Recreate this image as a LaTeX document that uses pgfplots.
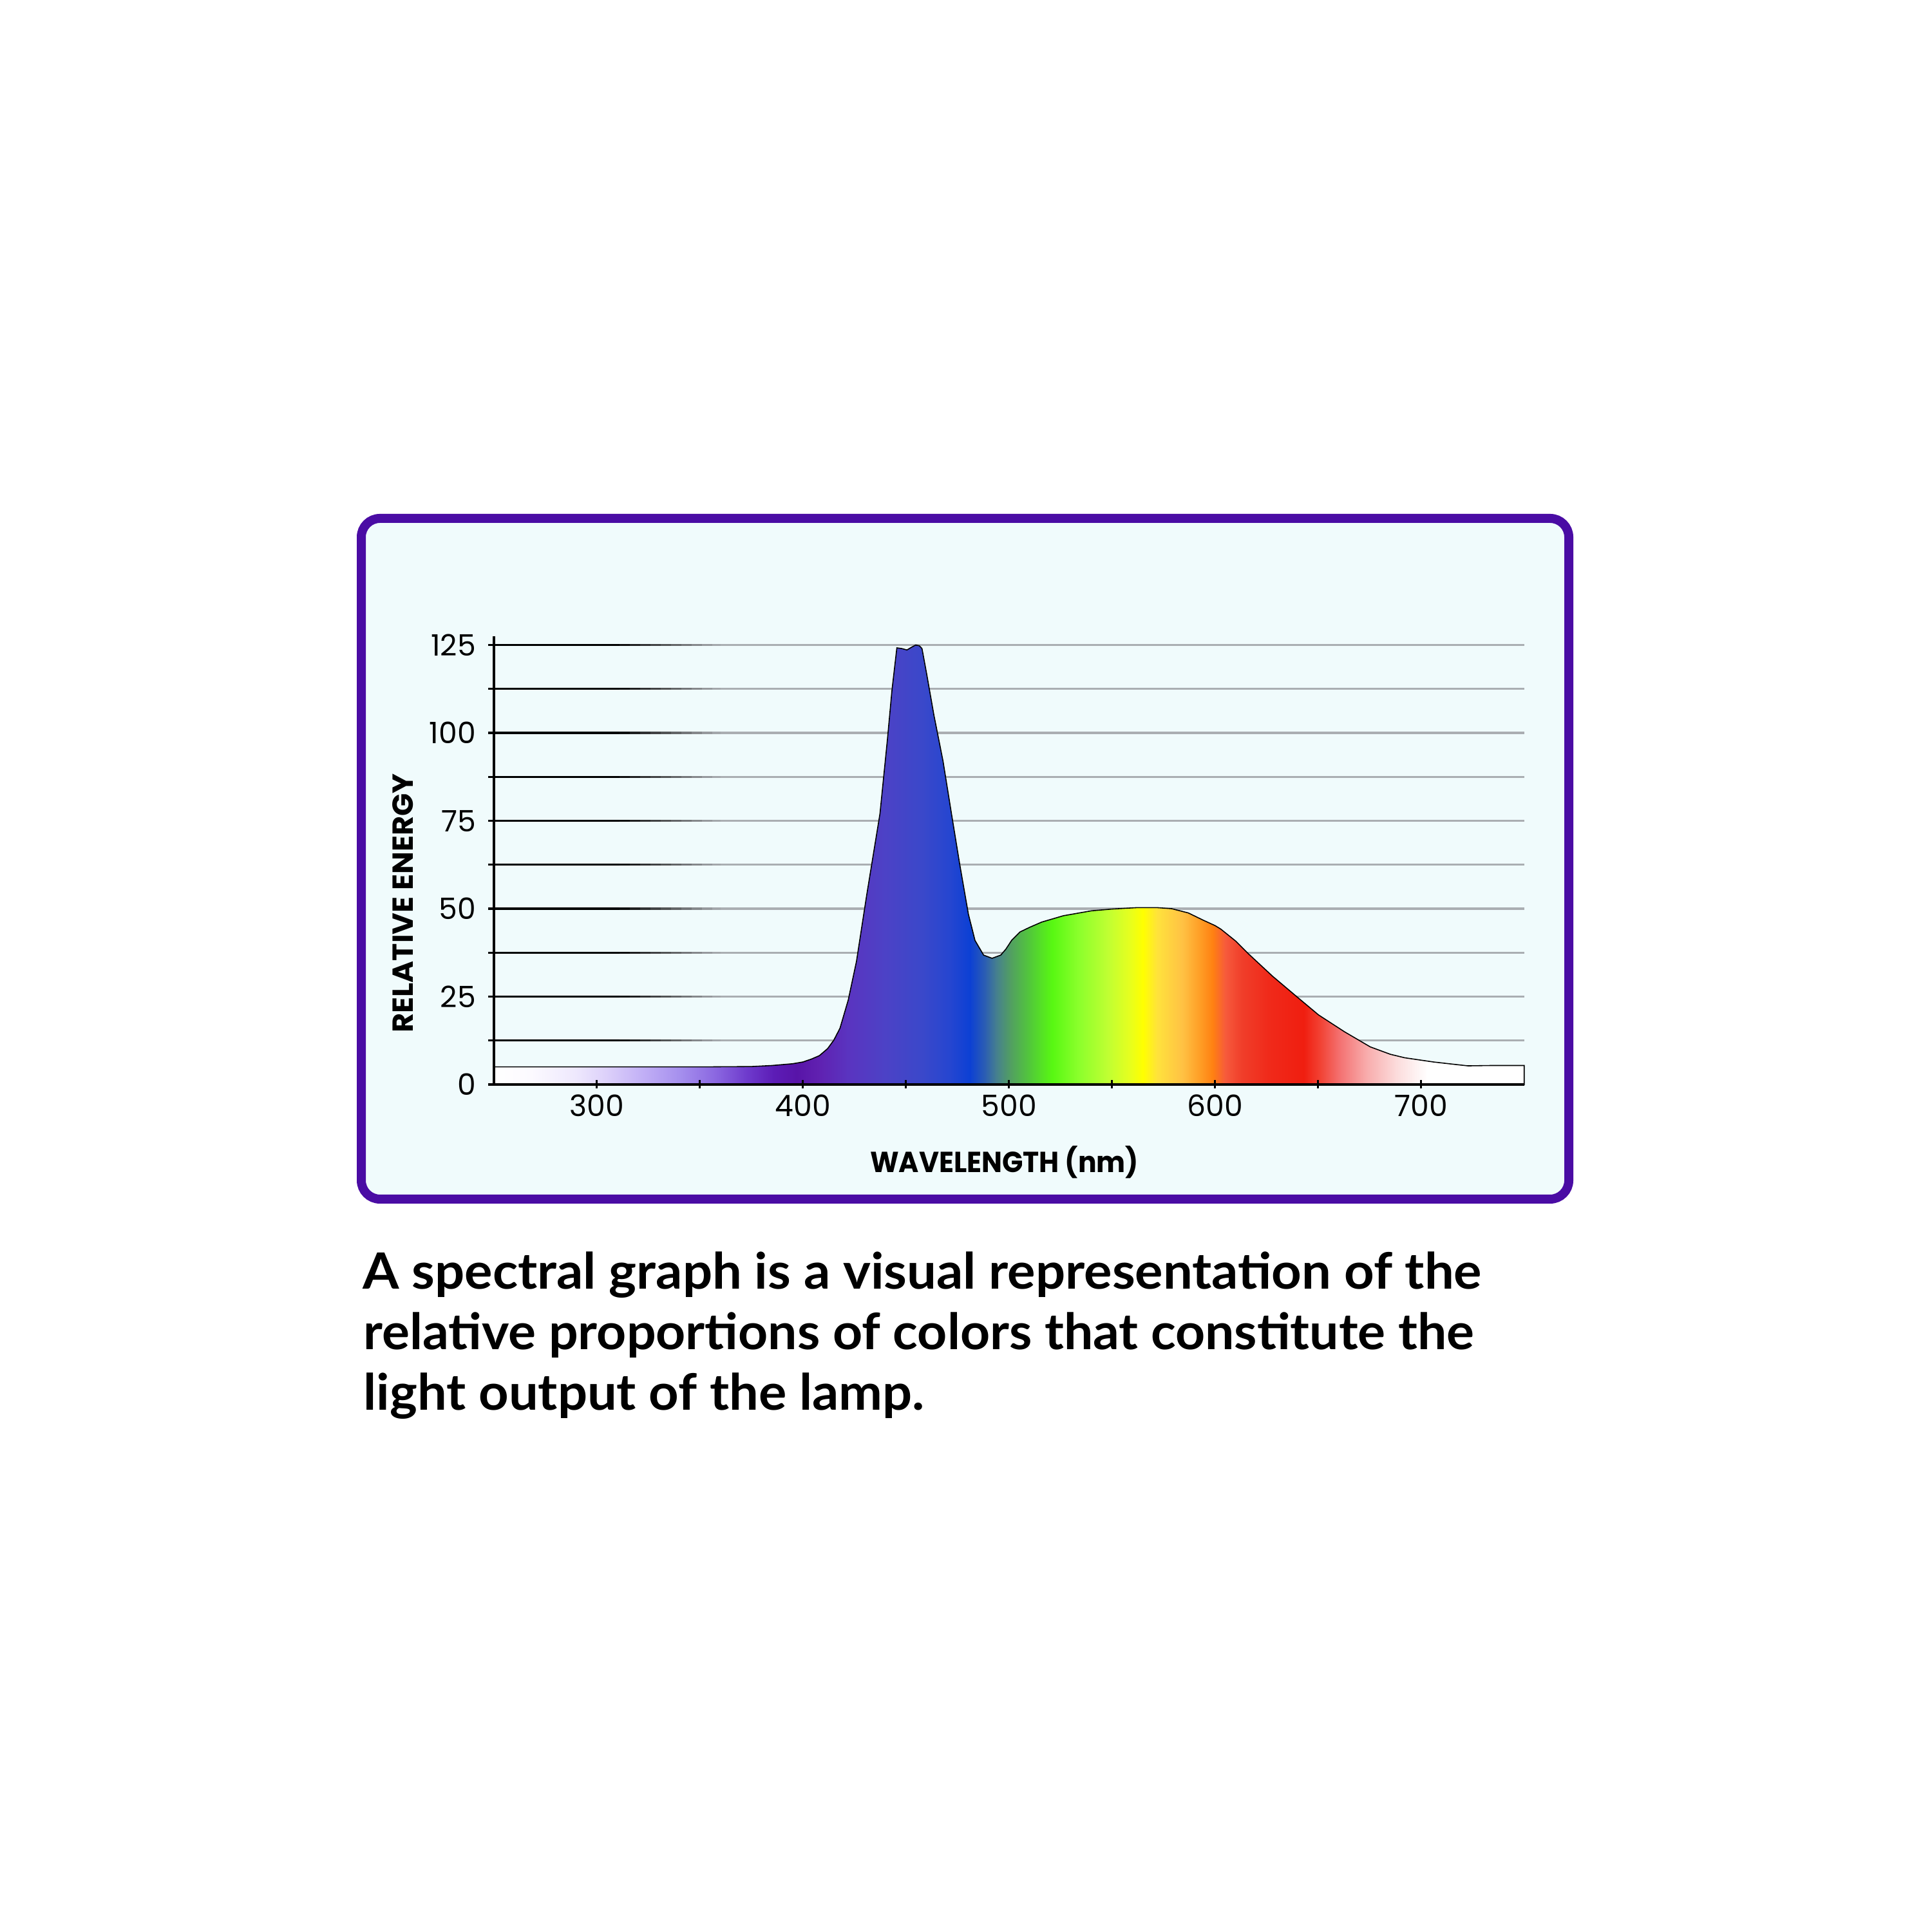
\documentclass[border=0pt]{standalone}
\usepackage{fontspec}
\setmainfont{Lato}
\newfontfamily\popp{Poppins}
\usepackage{graphicx}
\usepackage{pgfplots}
\pgfplotsset{compat=1.18}

\definecolor{framepurple}{RGB}{74,12,164}
\definecolor{framefill}{RGB}{240,251,252}
\definecolor{gridgray}{RGB}{170,174,178}
\definecolor{s01}{HTML}{FCFAFF}
\definecolor{s02}{HTML}{EEE8FD}
\definecolor{s03}{HTML}{DCD0FA}
\definecolor{s04}{HTML}{C2B0F6}
\definecolor{s05}{HTML}{A690EE}
\definecolor{s06}{HTML}{8A66E0}
\definecolor{s07}{HTML}{6E3ACC}
\definecolor{s08}{HTML}{5C1CB6}
\definecolor{s09}{HTML}{5814A8}
\definecolor{s10}{HTML}{6020B0}
\definecolor{s11}{HTML}{5A34C0}
\definecolor{s12}{HTML}{4C42C6}
\definecolor{s13}{HTML}{3A48CA}
\definecolor{s14}{HTML}{2646D0}
\definecolor{s15}{HTML}{0C40D4}
\definecolor{s16}{HTML}{2A5CB4}
\definecolor{s17}{HTML}{46808E}
\definecolor{s18}{HTML}{52A060}
\definecolor{s19}{HTML}{52C83A}
\definecolor{s20}{HTML}{58F812}
\definecolor{s21}{HTML}{8CFF2C}
\definecolor{s22}{HTML}{C0FF32}
\definecolor{s23}{HTML}{E4FF20}
\definecolor{s24}{HTML}{FFFF00}
\definecolor{s25}{HTML}{FFE23C}
\definecolor{s26}{HTML}{FFC244}
\definecolor{s27}{HTML}{FF9C24}
\definecolor{s28}{HTML}{FF8012}
\definecolor{s29}{HTML}{F65A3C}
\definecolor{s30}{HTML}{F03E2A}
\definecolor{s31}{HTML}{F02A1A}
\definecolor{s32}{HTML}{F01E10}
\definecolor{s33}{HTML}{F24234}
\definecolor{s34}{HTML}{F47474}
\definecolor{s35}{HTML}{F8AAAA}
\definecolor{s36}{HTML}{FCDCDC}

% wavelength L maps to 25bp + (L-250)/10 bp
\pgfdeclarehorizontalshading{spectrum}{100bp}{%
color(0bp)=(white); color(25bp)=(white);
color(26.8bp)=(s01); color(29bp)=(s02); color(30.5bp)=(s03); color(32.2bp)=(s04);
color(34bp)=(s05); color(35.8bp)=(s06); color(37.3bp)=(s07); color(38.6bp)=(s08);
color(39.7bp)=(s09); color(40.7bp)=(s10); color(42.2bp)=(s11); color(44bp)=(s12);
color(45.8bp)=(s13); color(47.1bp)=(s14); color(48.1bp)=(s15); color(48.8bp)=(s16);
color(49.4bp)=(s17); color(50.1bp)=(s18); color(51bp)=(s19); color(52.1bp)=(s20);
color(53.4bp)=(s21); color(54.8bp)=(s22); color(55.8bp)=(s23); color(56.5bp)=(s24);
color(57.2bp)=(s25); color(58.4bp)=(s26); color(59.3bp)=(s27); color(59.9bp)=(s28);
color(60.5bp)=(s29); color(61.3bp)=(s30); color(62.6bp)=(s31); color(64.3bp)=(s32);
color(65.1bp)=(s33); color(66.1bp)=(s34); color(67.3bp)=(s35); color(68.8bp)=(s36);
color(70.3bp)=(white); color(75bp)=(white); color(100bp)=(white)}

% one grid line: black near the axis, fading to grey
\newcommand\gridline[1]{%
  \draw[black, line width=0.32mm] ([xshift=-0.87mm]axis cs:250,#1) -- (axis cs:312,#1);
  \draw[black!92!gridgray, line width=0.32mm] (axis cs:311,#1) -- (axis cs:317,#1);
  \draw[black!82!gridgray, line width=0.32mm] (axis cs:316,#1) -- (axis cs:322,#1);
  \draw[black!72!gridgray, line width=0.32mm] (axis cs:321,#1) -- (axis cs:327,#1);
  \draw[black!62!gridgray, line width=0.32mm] (axis cs:326,#1) -- (axis cs:332,#1);
  \draw[black!52!gridgray, line width=0.32mm] (axis cs:331,#1) -- (axis cs:337,#1);
  \draw[black!42!gridgray, line width=0.32mm] (axis cs:336,#1) -- (axis cs:342,#1);
  \draw[black!32!gridgray, line width=0.32mm] (axis cs:341,#1) -- (axis cs:347,#1);
  \draw[black!22!gridgray, line width=0.32mm] (axis cs:346,#1) -- (axis cs:352,#1);
  \draw[black!12!gridgray, line width=0.32mm] (axis cs:351,#1) -- (axis cs:357,#1);
  \draw[black!4!gridgray, line width=0.32mm] (axis cs:356,#1) -- (axis cs:361,#1);
  \draw[gridgray, line width=0.32mm] (axis cs:360,#1) -- (axis cs:750,#1);
}

\begin{document}
\begin{tikzpicture}
% page background (3000 px = 300 mm)
\fill[white] (0,0) rectangle (300mm,300mm);
% frame
\draw[framepurple, line width=1.4mm, fill=framefill, rounded corners=2.9mm]
  (56.1mm,113.8mm) rectangle (243.6mm,219.5mm);

\begin{axis}[
  at={(76.67mm,131.6mm)}, anchor=south west,
  scale only axis, width=160mm, height=69.6mm,
  xmin=250, xmax=750, ymin=0, ymax=127.5,
  axis lines=left,
  axis line style={-, black, line width=0.42mm},
  axis on top, clip=false,
  xtick={300,400,500,600,700},
  minor xtick={350,450,550,650},
  tick align=center,
  major tick length=1.3mm, minor tick length=1.3mm,
  xtick style={black, line width=0.35mm},
  minor tick style={black, line width=0.35mm},
  ytick={0,25,50,75,100,125},
  ytick style={draw=none},
  /pgf/number format/assume math mode=true,
  ticklabel style={font=\popp\fontsize{13pt}{15pt}\selectfont, inner sep=0pt},
  xticklabel style={anchor=north, yshift=-0.9mm},
  yticklabel style={anchor=east, xshift=-2.07mm},
  xlabel={\resizebox{41.7mm}{\height}{\popp\bfseries\fontsize{12.8pt}{14pt}\selectfont WAVELENGTH (nm)}},
  ylabel={\resizebox{40.2mm}{\height}{\popp\bfseries\fontsize{12.8pt}{14pt}\selectfont RELATIVE ENERGY}},
  xlabel style={at={(axis description cs:0.4956,-0.1964)}, anchor=base, inner sep=0pt},
  ylabel style={at={(axis description cs:-0.0879,0.4045)}, anchor=center, inner sep=0pt},
]
\draw[black, line width=0.42mm] (axis cs:250,0) -- ([xshift=-0.87mm]axis cs:250,0);
\gridline{12.5}\gridline{25}\gridline{37.5}\gridline{50}\gridline{62.5}
\gridline{75}\gridline{87.5}\gridline{100}\gridline{112.5}\gridline{125}
\addplot[draw=black, line width=0.45pt, shade, shading=spectrum] table {
250 5.0
300 5.0
350 5.0
375 5.1
385 5.4
395 5.9
400 6.4
404 7.2
408 8.2
412 10.2
415 12.6
418 16
422 24
426 35
431 54
437.4 77
441 98
443.2 112
445.6 124.2
448 124
450.5 123.6
452.5 124.3
454.7 125
456.5 124.8
457.8 124
460 117
463.6 105
468 92
472 77.4
476 63
480.3 48.5
483.5 41
487.7 36.8
491.8 35.9
496 36.8
498.5 38.5
501.3 41
505.4 43.4
510 44.7
515.9 46.2
526.4 48
540 49.4
550 49.9
562 50.3
572 50.3
579 50
587 48.8
594.4 46.7
600 45.2
602.8 44.2
610 40.8
616.7 36.9
627.9 30.8
639 25.3
650.2 19.8
662.8 15
675.3 10.7
685 8.6
692 7.6
706 6.4
715 5.8
722.7 5.3
734 5.4
750 5.4
} \closedcycle;
\end{axis}

\begin{scope}[every node/.style={anchor=base west, inner sep=0pt}]
\node at (56.3mm,99.83mm) {\resizebox{173.7mm}{\height}{\bfseries\fontsize{22.1pt}{26pt}\selectfont A spectral graph is a visual representation of the}};
\node at (56.4mm,90.45mm) {\resizebox{172.4mm}{\height}{\bfseries\fontsize{22.1pt}{26pt}\selectfont relative proportions of colors that constitute the}};
\node at (56.4mm,81.07mm) {\resizebox{87.1mm}{\height}{\bfseries\fontsize{22.1pt}{26pt}\selectfont light output of the lamp.}};
\end{scope}
\end{tikzpicture}
\end{document}
